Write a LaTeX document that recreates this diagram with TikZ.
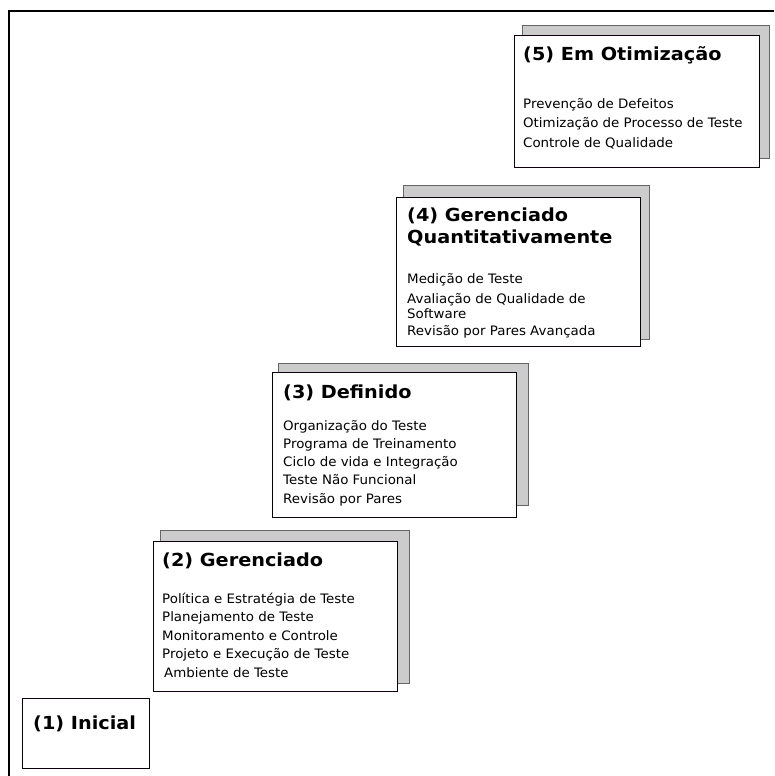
\documentclass[tikz,border=0pt]{standalone}
\usepackage{fontspec}
\setmainfont{DejaVu Sans}
\newfontfamily\headfont[FakeStretch=1.07]{DejaVu Sans}
\newfontfamily\itemfont[FakeStretch=1.03]{DejaVu Sans}
\begin{document}
\begin{tikzpicture}[x=1pt,y=-1pt,
  frame/.style={draw=black,line width=1.4pt},
  shadowbox/.style={draw=black!60,fill=black!20,line width=0.9pt},
  levelbox/.style={draw=black!90!violet,fill=white,line width=0.9pt},
  title/.style={anchor=base west,inner sep=0pt,font=\headfont\fontsize{18}{21}\selectfont\bfseries},
  item/.style={anchor=base west,inner sep=0pt,font=\itemfont\fontsize{13}{15}\selectfont}]
\useasboundingbox (0,0) rectangle (774,776);
% outer frame (open to the right and bottom)
\draw[frame] (774,11) -- (9,11) -- (9,776);

% level 5
\draw[shadowbox] (522,25) rectangle (769,158);
\draw[levelbox] (514,35) rectangle (759,167);
\node[title] (t5) at (523,61) {(5) Em Otimização};
\foreach \i/\txt in {0/Prevenção de Defeitos,1/Otimização de Processo de Teste,2/Controle de Qualidade}
  \node[item] (b5-\i) at (523,108+19.5*\i) {\txt};

% level 4
\draw[shadowbox] (403,185) rectangle (649,339);
\draw[levelbox] (396,197) rectangle (640,346);
\node[title] (t4a) at (407,221) {(4) Gerenciado};
\node[title] (t4b) at (407,243) {Quantitativamente};
\node[item] (b4-0) at (407,283) {Medição de Teste};
\node[item] (b4-1) at (407,303) {Avaliação de Qualidade de};
\node[item] (b4-2) at (407,318.5) {Software};
\node[item] (b4-3) at (407,335) {Revisão por Pares Avançada};

% level 3
\draw[shadowbox] (278,363) rectangle (528,505);
\draw[levelbox] (272,372) rectangle (516,517);
\node[title] (t3) at (283,398) {(3) Definido};
\foreach \i/\txt in {0/Organização do Teste,1/Programa de Treinamento,2/Ciclo de vida e Integração,3/Teste Não Funcional,4/Revisão por Pares}
  \node[item] (b3-\i) at (283,430+18.3*\i) {\txt};

% level 2
\draw[shadowbox] (160,530) rectangle (409,683);
\draw[levelbox] (153,541) rectangle (397,691);
\node[title] (t2) at (162,566) {(2) Gerenciado};
\foreach \i/\txt in {0/Política e Estratégia de Teste,1/Planejamento de Teste,2/Monitoramento e Controle,3/Projeto e Execução de Teste}
  \node[item] (b2-\i) at (162,603+18.5*\i) {\txt};
\node[item] (b2-4) at (164,677) {Ambiente de Teste};

% level 1
\draw[levelbox] (22,698) rectangle (149,768);
\node[title] (t1) at (33,729) {(1) Inicial};
\end{tikzpicture}
\end{document}
